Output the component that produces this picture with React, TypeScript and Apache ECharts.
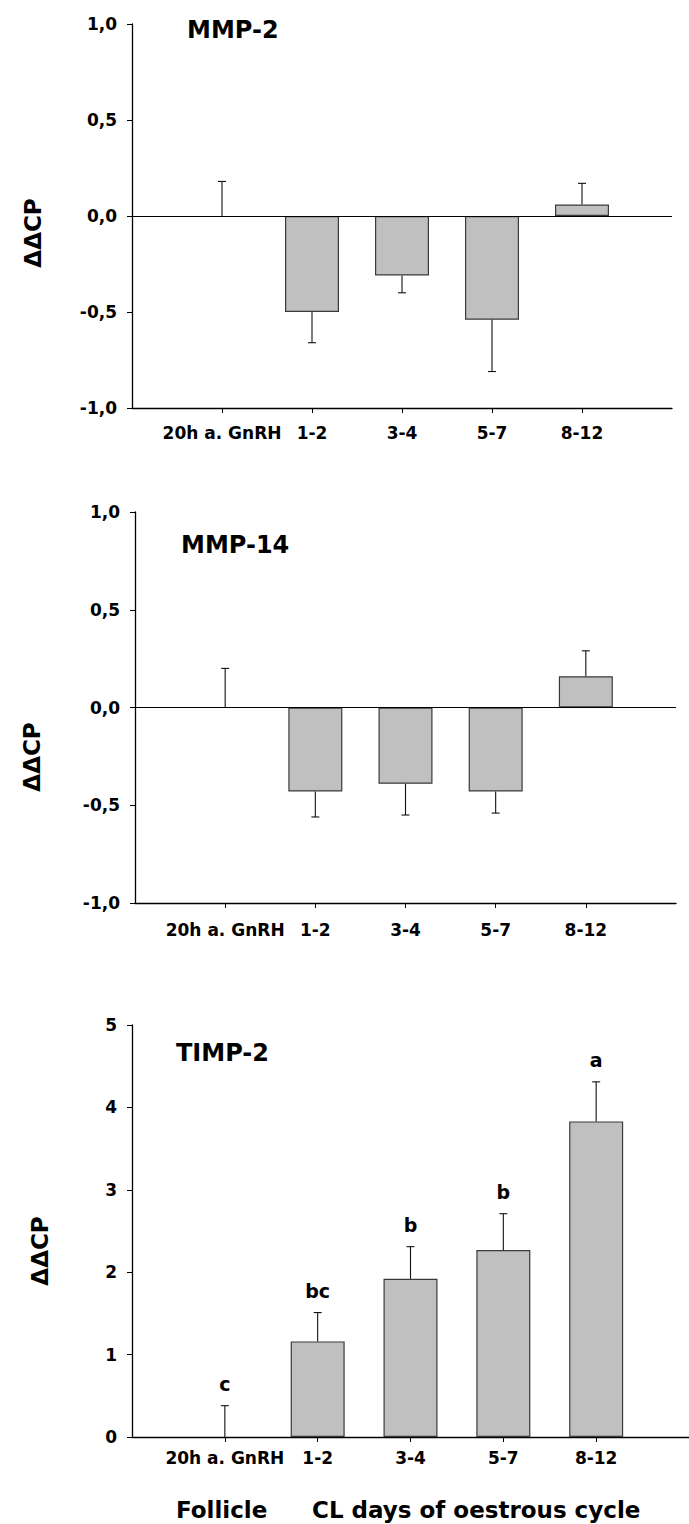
import React, { useEffect, useRef } from "react";
import * as echarts from "echarts";

const categories = ["20h a. GnRH", "1-2", "3-4", "5-7", "8-12"];
const positions = [1, 2, 3, 4, 5];

const mmp2Mean = [0, -0.5, -0.31, -0.54, 0.06];
const mmp2Sem = [0.18, 0.16, 0.09, 0.27, 0.11];

const mmp14Mean = [0, -0.43, -0.39, -0.43, 0.16];
const mmp14Sem = [0.2, 0.13, 0.16, 0.11, 0.13];

const timp2Mean = [0, 1.16, 1.92, 2.27, 3.83];
const timp2Sem = [0.38, 0.35, 0.39, 0.44, 0.48];
const timp2Letters = ["c", "bc", "b", "b", "a"];

const FONT = "'DejaVu Sans', 'Liberation Sans', Arial, sans-serif";
const comma = (v: number) => v.toFixed(1).replace(".", ",");

export default function App() {
  const ref = useRef<HTMLDivElement>(null);
  useEffect(() => {
    if (!ref.current) return;
    const chart = echarts.init(ref.current, undefined, { renderer: "svg" });

    const grids = [
      { left: 132, width: 540, top: 24, height: 384 },
      { left: 135, width: 541, top: 512, height: 391 },
      { left: 132, width: 562, top: 1025, height: 412 },
    ];
    const labelMargins = [16, 18, 12];

    const xAxes = grids.map((_, i) => ({
      type: "value",
      gridIndex: i,
      min: 0,
      max: 6,
      interval: 1,
      axisLine: { show: true, onZero: false, lineStyle: { color: "#000", width: 1.3 } },
      axisTick: { show: true, customValues: positions, length: 5, inside: false, lineStyle: { color: "#000", width: 1 } },
      axisLabel: {
        customValues: positions,
        formatter: (v: number) => categories[Math.round(v) - 1] ?? "",
        color: "#000",
        fontFamily: FONT,
        fontWeight: "bold",
        fontSize: 17,
        margin: labelMargins[i],
      },
      splitLine: { show: false },
    }));

    const yLimits = [
      { min: -1, max: 1, interval: 0.5, fmt: comma },
      { min: -1, max: 1, interval: 0.5, fmt: comma },
      { min: 0, max: 5, interval: 1, fmt: (v: number) => String(v) },
    ];
    const yAxes = yLimits.map((l, i) => ({
      type: "value",
      gridIndex: i,
      min: l.min,
      max: l.max,
      interval: l.interval,
      axisLine: { show: true, onZero: false, lineStyle: { color: "#000", width: 1.3 } },
      axisTick: { show: true, length: 5, lineStyle: { color: "#000", width: 1 } },
      axisLabel: {
        formatter: l.fmt,
        color: "#000",
        fontFamily: FONT,
        fontWeight: "bold",
        fontSize: 17,
        margin: 15,
      },
      splitLine: { show: false },
    }));

    const barSeries = (i: number, means: number[], zeroLine: boolean) => ({
      type: "bar",
      xAxisIndex: i,
      yAxisIndex: i,
      barWidth: 54,
      data: means.map((m, k) =>
        m === 0
          ? { value: [positions[k], m], itemStyle: { borderWidth: 0, color: "transparent" } }
          : [positions[k], m]
      ),
      itemStyle: { color: "#c0c0c0", borderColor: "#3a3a3a", borderWidth: 1.2 },
      markLine: zeroLine
        ? {
            silent: true,
            symbol: "none",
            label: { show: false },
            lineStyle: { color: "#000", width: 1.2, type: "solid" },
            data: [{ yAxis: 0 }],
          }
        : undefined,
    });

    const errSeries = (i: number, means: number[], sems: number[], letters?: string[]) => ({
      type: "custom",
      xAxisIndex: i,
      yAxisIndex: i,
      data: means.map((m, k) => [positions[k], m, sems[k]]),
      z: 3,
      renderItem: (params: any, api: any) => {
        const x = api.value(0);
        const m = api.value(1);
        const s = api.value(2);
        const dir = m < 0 ? -1 : 1;
        const p0 = api.coord([x, m]);
        const p1 = api.coord([x, m + dir * s]);
        const st = { stroke: "#111", lineWidth: 1.1 };
        const children: any[] = [
          { type: "line", shape: { x1: p0[0], y1: p0[1], x2: p1[0], y2: p1[1] }, style: st },
          { type: "line", shape: { x1: p1[0] - 4, y1: p1[1], x2: p1[0] + 4, y2: p1[1] }, style: st },
        ];
        if (letters) {
          children.push({
            type: "text",
            x: p1[0],
            y: p1[1] - 12,
            style: {
              text: letters[params.dataIndex],
              fill: "#000",
              fontFamily: FONT,
              fontWeight: "bold",
              fontSize: 19,
              align: "center",
              verticalAlign: "bottom",
            },
          });
        }
        return { type: "group", children };
      },
    });

    const titleText = (text: string, x: number, y: number, size: number) => ({
      type: "text",
      x,
      y,
      style: {
        text,
        fill: "#000",
        fontFamily: FONT,
        fontWeight: "bold",
        fontSize: size,
        align: "left",
        verticalAlign: "middle",
      },
    });
    const yName = (x: number, y: number) => ({
      type: "text",
      x,
      y,
      rotation: Math.PI / 2,
      style: {
        text: "ΔΔCP",
        fill: "#000",
        fontFamily: FONT,
        fontWeight: "bold",
        fontSize: 23,
        align: "center",
        verticalAlign: "middle",
      },
    });

    chart.setOption({
      animation: false,
      backgroundColor: "#fff",
      grid: grids,
      xAxis: xAxes,
      yAxis: yAxes,
      series: [
        barSeries(0, mmp2Mean, true),
        errSeries(0, mmp2Mean, mmp2Sem),
        barSeries(1, mmp14Mean, true),
        errSeries(1, mmp14Mean, mmp14Sem),
        barSeries(2, timp2Mean, false),
        errSeries(2, timp2Mean, timp2Sem, timp2Letters),
      ],
      graphic: [
        titleText("MMP-2", 187, 30, 24),
        titleText("MMP-14", 181, 545, 24),
        titleText("TIMP-2", 176, 1053, 24),
        titleText("Follicle", 176, 1510, 23),
        titleText("CL days of oestrous cycle", 312, 1510, 23),
        yName(33, 233),
        yName(32, 757),
        yName(40, 1251),
      ],
    });
    return () => chart.dispose();
  }, []);
  return (
    <div
      ref={ref}
      style={{ position: "absolute", left: 0, top: 0, width: 689, height: 1524 }}
    />
  );
}
